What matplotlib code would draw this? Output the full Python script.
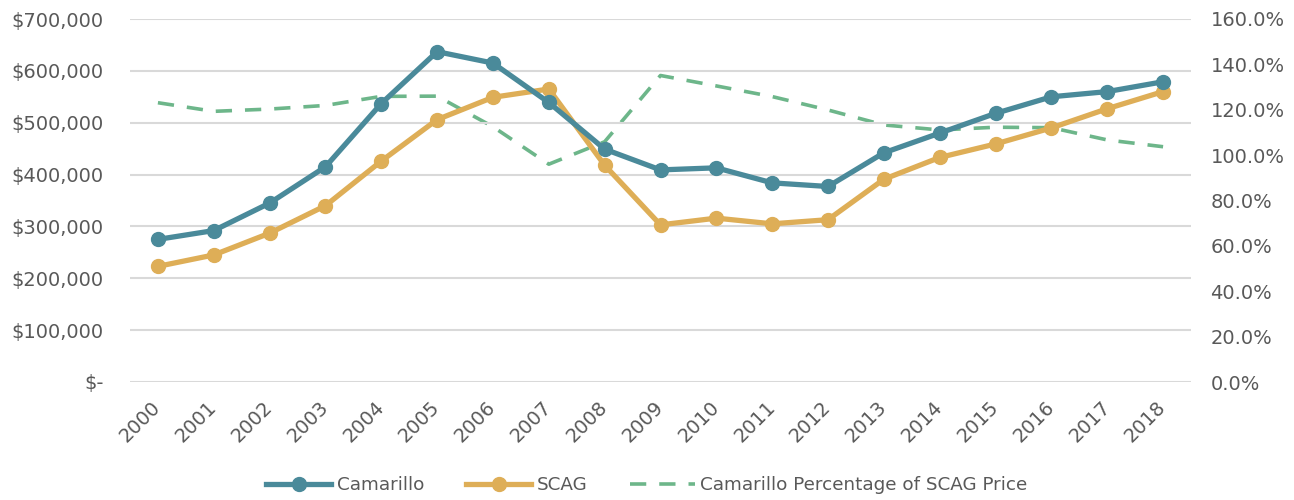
import matplotlib
matplotlib.use("Agg")
import matplotlib.pyplot as plt
from matplotlib.ticker import FuncFormatter, MultipleLocator
from matplotlib.lines import Line2D

years = [str(y) for y in range(2000, 2019)]
camarillo = [275000, 292000, 345000, 415000, 537000, 637000, 615000, 539000, 449000,
             409000, 413000, 384000, 377000, 442000, 480000, 518000, 550000, 560000, 579000]
scag = [223000, 245000, 287000, 340000, 426000, 506000, 549000, 565000, 418000,
        303000, 316000, 305000, 313000, 391000, 433000, 459000, 490000, 527000, 560000]
pct = [123.1, 119.3, 120.3, 121.9, 125.9, 126.0, 112.5, 96.0, 105.9,
       135.1, 130.5, 125.8, 119.9, 113.3, 111.1, 112.3, 112.1, 106.7, 103.7]

c_cam = "#4A8A9A"
c_scag = "#DEAE57"
c_pct = "#6DB68A"
txt = "#595959"
grid = "#D9D9D9"

plt.rcParams['font.family'] = ['DejaVu Sans']

fig = plt.figure(figsize=(12.94, 5.0), dpi=100)
ax = fig.add_axes([130/1294, 1-382/500, (1191-130)/1294, (382-19)/500])
ax2 = ax.twinx()

x = list(range(len(years)))
ax.plot(x, camarillo, color=c_cam, lw=3.8, marker='o', ms=10, zorder=4)
ax.plot(x, scag, color=c_scag, lw=3.8, marker='o', ms=10, zorder=3)
ax2.plot(x, pct, color=c_pct, lw=2.6, ls=(0, (4.5, 3.6)), zorder=2)

ax.set_xlim(-0.5, len(years) - 0.5)
ax.set_ylim(0, 700000)
ax2.set_ylim(0, 160)
ax.yaxis.set_major_locator(MultipleLocator(100000))
ax2.yaxis.set_major_locator(MultipleLocator(20))

def money(v, p):
    if abs(v) < 1:
        return "$-"
    return "${:,.0f}".format(v)

ax.yaxis.set_major_formatter(FuncFormatter(money))
ax2.yaxis.set_major_formatter(FuncFormatter(lambda v, p: "{:.1f}%".format(v)))

ax.set_xticks(x)
ax.set_xticklabels(years, rotation=45, ha='right', va='center', rotation_mode='anchor')

ax.grid(axis='y', color=grid, lw=1.5)
ax.set_axisbelow(True)
for a in (ax, ax2):
    for s in a.spines.values():
        s.set_visible(False)
ax.tick_params(axis='y', length=0, pad=19, labelsize=14, labelcolor=txt)
ax.tick_params(axis='x', length=0, pad=16, labelsize=14, labelcolor=txt)
ax2.tick_params(axis='y', length=0, pad=14, labelsize=14, labelcolor=txt)
ax.set_zorder(ax2.get_zorder() + 1)
ax.patch.set_visible(False)

handles = [
    Line2D([], [], color=c_cam, lw=3.8, marker='o', ms=10),
    Line2D([], [], color=c_scag, lw=3.8, marker='o', ms=10),
    Line2D([], [], color=c_pct, lw=2.6, ls=(0, (4.5, 3.6))),
]
labels = ["Camarillo", "SCAG", "Camarillo Percentage of SCAG Price"]
leg = fig.legend(handles, labels, loc='center', bbox_to_anchor=(0.5, 1-485/500), ncol=3,
                 frameon=False, fontsize=13.2, handlelength=3.55, handletextpad=0.3,
                 columnspacing=2.3, labelcolor=txt)

fig.savefig("out.png", dpi=100)
